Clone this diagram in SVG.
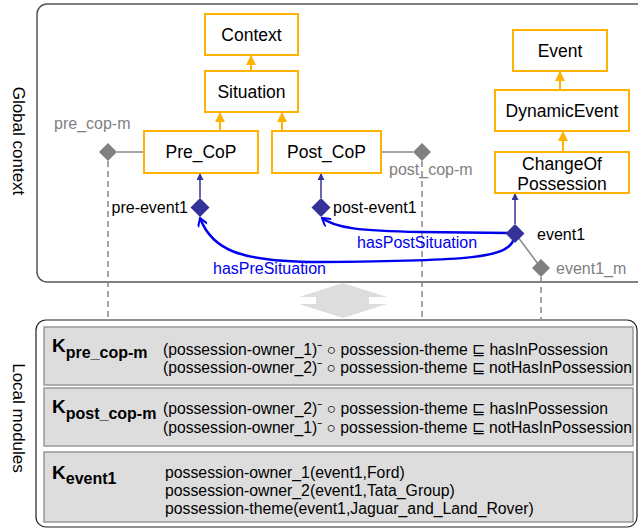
<svg xmlns="http://www.w3.org/2000/svg" width="638" height="530" viewBox="0 0 638 530">
<defs>
<style>
text{font-family:"Liberation Sans",Arial,sans-serif;}
.node rect{fill:#fff;stroke:#ffb300;stroke-width:2;}
.node text{font-size:17.5px;fill:#000;text-anchor:middle;}
.lbl{font-size:16px;fill:#000;}
.glbl{font-size:16px;fill:#808080;}
.blbl{font-size:16px;fill:#0000ee;}
.gd{fill:#808080;}
.bd{fill:#333399;}
.sub{stroke:#ffb300;stroke-width:2;fill:none;}
.ins{stroke:#333399;stroke-width:1.5;fill:none;}
.rel{stroke:#0000ee;stroke-width:2.5;fill:none;}
.gl{stroke:#888;stroke-width:1.5;fill:none;}
.dash{stroke:#888;stroke-width:1.5;stroke-dasharray:6,4;fill:none;}
.mod rect{fill:#dddddd;stroke:#999;stroke-width:1.5;}
.mod text{font-size:15.8px;fill:#000;}
.K{font-size:19px;font-weight:bold;}
.Ks{font-size:16px;font-weight:bold;}
.side{font-size:17px;fill:#000;text-anchor:middle;}
</style>
<marker id="ao" viewBox="0 0 10 10" refX="10" refY="5" markerWidth="10" markerHeight="10" markerUnits="userSpaceOnUse" orient="auto"><path d="M0,0 L10,5 L0,10 z" fill="#ffb300"/></marker>
<marker id="ab" viewBox="0 0 10 10" refX="10" refY="5" markerWidth="7" markerHeight="7" markerUnits="userSpaceOnUse" orient="auto"><path d="M0,0 L10,5 L0,10 z" fill="#333399"/></marker>
<marker id="av" viewBox="0 0 10 10" refX="9" refY="5" markerWidth="10" markerHeight="10" markerUnits="userSpaceOnUse" orient="auto"><path d="M1,0 L9,5 L1,10" fill="none" stroke="#0000ee" stroke-width="2"/></marker>
</defs>

<!-- panels -->
<rect x="37" y="4" width="620" height="278" rx="10" fill="#fff" stroke="#555" stroke-width="1.5"/>
<path d="M343,283 L387,297 L369,297 L369,304 L387,304 L343,318 L299,304 L316,304 L316,297 L299,297 Z" fill="#dddddd"/>
<rect x="36" y="320" width="601" height="207" rx="10" fill="#fff" stroke="#222" stroke-width="1.2"/>

<text class="side" transform="translate(13,141) rotate(90)">Global context</text>
<text class="side" transform="translate(13,418) rotate(90)">Local modules</text>

<!-- connectors -->
<g id="connectors">
<line class="sub" x1="251" y1="71" x2="251" y2="55" marker-end="url(#ao)"/>
<line class="sub" x1="220" y1="131" x2="220" y2="112" marker-end="url(#ao)"/>
<line class="sub" x1="282" y1="131" x2="282" y2="112" marker-end="url(#ao)"/>
<line class="sub" x1="560" y1="90" x2="560" y2="71" marker-end="url(#ao)"/>
<line class="sub" x1="563" y1="152" x2="563" y2="131" marker-end="url(#ao)"/>
<line class="ins" x1="200" y1="198" x2="200" y2="173" marker-end="url(#ab)"/>
<line class="ins" x1="321" y1="198" x2="321" y2="173" marker-end="url(#ab)"/>
<line class="ins" x1="515" y1="224" x2="515" y2="193" marker-end="url(#ab)"/>
<line class="gl" x1="117" y1="152" x2="144" y2="152"/>
<line class="gl" x1="381" y1="152" x2="413" y2="152"/>
<line class="gl" x1="515" y1="233" x2="541" y2="268"/>
<line class="dash" x1="108" y1="161" x2="108" y2="320"/>
<line class="dash" x1="422" y1="161" x2="422" y2="320"/>
<line class="dash" x1="541" y1="277" x2="541" y2="320"/>
<path class="rel" d="M510,233 L420,232 C360,231 335,228 322,218" marker-end="url(#av)"/>
<path class="rel" d="M514,238 C510,258 470,261 320,262 C240,262 212,250 200,218" marker-end="url(#av)"/>
</g>

<!-- class nodes -->
<g id="Context" class="node"><rect x="205" y="14" width="93" height="41"/><text x="251.5" y="41">Context</text></g>
<g id="Situation" class="node"><rect x="205" y="71" width="93" height="41"/><text x="251.5" y="98">Situation</text></g>
<g id="Pre_CoP" class="node"><rect x="144" y="131" width="114" height="42"/><text x="201" y="158">Pre_CoP</text></g>
<g id="Post_CoP" class="node"><rect x="272" y="131" width="109" height="42"/><text x="326.5" y="158">Post_CoP</text></g>
<g id="Event" class="node"><rect x="513" y="30" width="94" height="41"/><text x="560" y="57">Event</text></g>
<g id="DynamicEvent" class="node"><rect x="495" y="90" width="134" height="41"/><text x="562" y="117">DynamicEvent</text></g>
<g id="ChangeOfPossession" class="node"><rect x="495" y="152" width="134" height="41"/><text x="562" y="170">ChangeOf</text><text x="562" y="190">Possession</text></g>

<!-- individuals -->
<g id="pre_cop-m"><path class="gd" d="M108,143 L117,152 L108,161 L99,152 Z"/><text class="glbl" x="54" y="129">pre_cop-m</text></g>
<g id="post_cop-m"><path class="gd" d="M422,143 L431,152 L422,161 L413,152 Z"/><text class="glbl" x="389" y="175">post_cop-m</text></g>
<g id="event1_m"><path class="gd" d="M541,259 L550,268 L541,277 L532,268 Z"/><text class="glbl" x="556" y="274">event1_m</text></g>
<g id="pre-event1"><path class="bd" d="M200,198 L209.5,207.5 L200,217 L190.5,207.5 Z"/><text class="lbl" x="188" y="213" text-anchor="end">pre-event1</text></g>
<g id="post-event1"><path class="bd" d="M321,198 L330.5,207.5 L321,217 L311.5,207.5 Z"/><text class="lbl" x="333" y="213">post-event1</text></g>
<g id="event1"><path class="bd" d="M515,224 L524.5,233.5 L515,243 L505.5,233.5 Z"/><text class="lbl" x="537" y="240">event1</text></g>

<text class="blbl" x="357" y="248">hasPostSituation</text>
<text class="blbl" x="213" y="274">hasPreSituation</text>

<!-- modules -->
<g id="K_pre_cop-m" class="mod"><rect x="44" y="327" width="589" height="58"/>
<text x="52" y="352"><tspan class="K">K</tspan><tspan class="Ks" dy="6">pre_cop-m</tspan></text>
<text x="163" y="355" textLength="445" lengthAdjust="spacingAndGlyphs">(possession-owner_1)⁻ ○ possession-theme ⊑ hasInPossession</text>
<text x="163" y="373" textLength="469" lengthAdjust="spacingAndGlyphs">(possession-owner_2)⁻ ○ possession-theme ⊑ notHasInPossession</text></g>
<g id="K_post_cop-m" class="mod"><rect x="44" y="388" width="589" height="58"/>
<text x="52" y="413"><tspan class="K">K</tspan><tspan class="Ks" dy="6">post_cop-m</tspan></text>
<text x="163" y="414" textLength="445" lengthAdjust="spacingAndGlyphs">(possession-owner_2)⁻ ○ possession-theme ⊑ hasInPossession</text>
<text x="163" y="433" textLength="469" lengthAdjust="spacingAndGlyphs">(possession-owner_1)⁻ ○ possession-theme ⊑ notHasInPossession</text></g>
<g id="K_event1" class="mod"><rect x="44" y="452" width="589" height="70"/>
<text x="52" y="479"><tspan class="K">K</tspan><tspan class="Ks" dy="5">event1</tspan></text>
<text x="165" y="478">possession-owner_1(event1,Ford)</text>
<text x="165" y="496">possession-owner_2(event1,Tata_Group)</text>
<text x="165" y="514">possession-theme(event1,Jaguar_and_Land_Rover)</text></g>
</svg>
